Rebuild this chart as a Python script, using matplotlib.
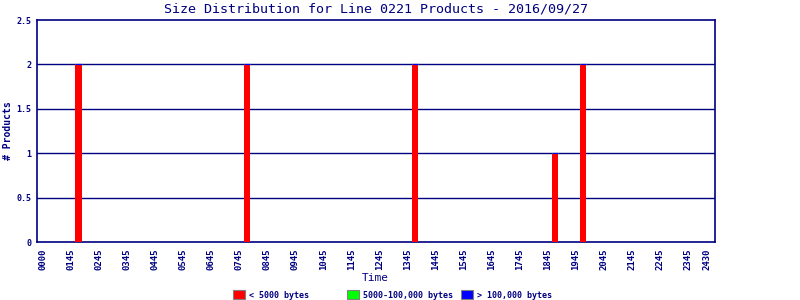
import matplotlib
matplotlib.use("Agg")
import matplotlib.pyplot as plt
from matplotlib.patches import Rectangle
import numpy as np

# x axis ticks (slot positions) and their labels
tick_labels = ["0000"] + [f"{h:02d}45" for h in range(1, 24)] + ["2430"]
tick_pos = list(range(24)) + [23.68]

# bars: slot position and product counts per size class
bar_pos = [1.27, 7.27, 13.27, 18.27, 19.27]
small = [2, 2, 2, 1, 2]      # < 5000 bytes
medium = [0, 0, 0, 0, 0]     # 5000-100,000 bytes
large = [0, 0, 0, 0, 0]      # > 100,000 bytes

legend_labels = ["< 5000 bytes", "5000-100,000 bytes", "> 100,000 bytes"]
colors = ["#ff0000", "#00ff00", "#0000ff"]
navy = "#000080"
mono = "DejaVu Sans Mono"

fig = plt.figure(figsize=(8, 3), dpi=100)
ax = fig.add_axes([37 / 800, 58 / 300, 678 / 800, 222 / 300])

w = 0.23
small = np.array(small)
medium = np.array(medium)
large = np.array(large)
ax.bar(bar_pos, small, width=w, color=colors[0], zorder=3)
ax.bar(bar_pos, medium, width=w, bottom=small, color=colors[1],
       edgecolor=colors[1], linewidth=0.8, zorder=3)
ax.bar(bar_pos, large, width=w, bottom=small + medium, color=colors[2],
       edgecolor=colors[2], linewidth=0.8, zorder=3)

ax.set_xlim(-0.21, 23.97)
ax.set_ylim(0, 2.5)
ax.set_yticks([0, 0.5, 1, 1.5, 2, 2.5])
ax.set_yticklabels(["0", "0.5", "1", "1.5", "2", "2.5"])
ax.set_xticks(tick_pos)
ax.set_xticklabels(tick_labels, rotation=90)
ax.tick_params(axis="both", length=0, labelsize=6, labelcolor=navy)
ax.tick_params(axis="x", pad=5, labelsize=6.5)
ax.tick_params(axis="y", pad=4)
for lab in ax.get_xticklabels() + ax.get_yticklabels():
    lab.set_family(mono)
    lab.set_fontweight("bold")

for y in [0.5, 1, 1.5, 2]:
    ax.axhline(y, color=navy, linewidth=1, zorder=1)
for s in ax.spines.values():
    s.set_color(navy)
    s.set_linewidth(1.2)

fig.text(376 / 800, 1 - 9 / 300, "Size Distribution for Line 0221 Products - 2016/09/27",
         ha="center", va="center", color=navy, family=mono, fontsize=9.6)
fig.text(375 / 800, 1 - 278 / 300, "Time", ha="center", va="center",
         color=navy, family=mono, fontsize=8)
fig.text(8 / 800, 1 - 131 / 300, "# Products", ha="center", va="center",
         rotation=90, color=navy, family=mono, fontsize=7, fontweight="bold")

# legend row along the bottom
for i, (lab, c) in enumerate(zip(legend_labels, colors)):
    x0 = 233 + i * 114
    fig.patches.append(Rectangle((x0 / 800, 1 / 300), 12 / 800, 9 / 300,
                                 transform=fig.transFigure, facecolor=c,
                                 edgecolor="#808080", linewidth=0.8))
    fig.text((x0 + 16) / 800, 1 - 295 / 300, lab, ha="left", va="center",
             color=navy, family=mono, fontsize=6, fontweight="bold")

fig.savefig("out.png", dpi=100)
